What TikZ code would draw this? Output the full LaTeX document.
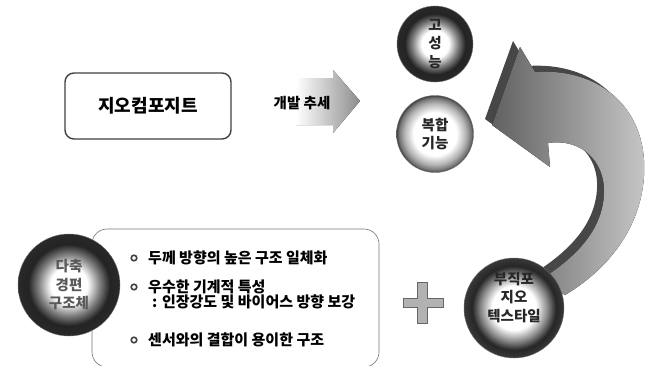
\documentclass[tikz,border=0pt]{standalone}
\usepackage{fontspec}
\setmainfont{Noto Sans CJK KR}

\pgfdeclareradialshading{balldark}{\pgfpoint{0bp}{0bp}}{color(0bp)=(white); color(9bp)=(white); color(15bp)=(black!50); color(20bp)=(black!86); color(25bp)=(black!84); color(50bp)=(black!84)}
\pgfdeclareradialshading{balllight}{\pgfpoint{0bp}{0bp}}{color(0bp)=(white); color(14bp)=(white); color(20bp)=(black!30); color(23.5bp)=(black!55); color(25bp)=(black!75); color(50bp)=(black!75)}
\pgfdeclareradialshading{ballmid}{\pgfpoint{0bp}{0bp}}{color(0bp)=(white); color(11bp)=(white); color(16.5bp)=(black!45); color(21bp)=(black!85); color(25bp)=(black!78); color(50bp)=(black!78)}

\tikzset{
	ball/.style={circle, inner sep=0pt, shading=#1, draw=black!55, line width=0.4pt,
		font=\bfseries\fontsize{14.5}{18.5}\selectfont, align=center, text=black!85},
	listtext/.style={anchor=west, inner sep=0pt, font=\bfseries\fontsize{15}{17}\selectfont},
	listbullet/.style={draw=black!75, line width=1.6pt, fill=white},
}

\newcommand{\returnarrow}{(520,47) -- (492,125) -- (550,167) -- (548,143)
	.. controls (580,138) and (606,160) .. (604,195)
	.. controls (602,228) and (580,255) .. (540,280) -- (565,295)
	.. controls (620,262) and (647,212) .. (644,160)
	.. controls (640,100) and (592,68) .. (535,72) -- cycle}

\begin{document}
\begin{tikzpicture}[x=1pt,y=-1pt]
	\useasboundingbox (0,0) rectangle (650,365);

	\node[draw=black!75, line width=1.4pt, rounded corners=9pt, minimum width=166pt, minimum height=66pt,
		font=\bfseries\fontsize{18}{20}\selectfont] (geo) at (148,106) {지오컴포지트};

	\fill[left color=white, right color=black!45] (296,78) -- (333,78) -- (333,70) -- (360,101)
		-- (333,133) -- (333,125) -- (296,125) -- cycle;
	\node[font=\bfseries\fontsize{14.5}{16}\selectfont] (trend) at (302,103) {개발 추세};

	\node[ball=balldark, minimum size=76pt] (perf) at (435,44) {고\\성\\능};
	\node[ball=balllight, minimum size=77pt] (multi) at (435,134) {복합\\기능};

	\fill[black!72, shift={(-7,-6)}] \returnarrow;
	\fill[left color=black!62, right color=black!22] \returnarrow;

	\node[ball=ballmid, minimum size=100pt] (nonwoven) at (514,308) {부직포\\지오\\텍스타일\\[4pt]};

	\filldraw[fill=black!30, draw=black!60, line width=1pt] (417,282) -- (427,282) -- (427,298)
		-- (443,298) -- (443,307) -- (427,307) -- (427,323) -- (417,323) -- (417,307)
		-- (403,307) -- (403,298) -- (417,298) -- cycle;

	\draw[black!55, line width=0.6pt, rounded corners=15pt] (92,229) rectangle (379,367);
	\node[ball=balldark, minimum size=102pt, text=black!65] (knit) at (69,285) {다축\\경편\\구조체};

	\foreach \y in {258,287,340}
		\draw[listbullet] (134,\y) circle (2.8);
	\node[listtext] (item1) at (148,258) {두께 방향의 높은 구조 일체화};
	\node[listtext] (item2) at (148,287) {우수한 기계적 특성};
	\node[listtext] (item3) at (152,302) {: 인장강도 및 바이어스 방향 보강};
	\node[listtext] (item4) at (148,340) {센서와의 결합이 용이한 구조};
\end{tikzpicture}
\end{document}
